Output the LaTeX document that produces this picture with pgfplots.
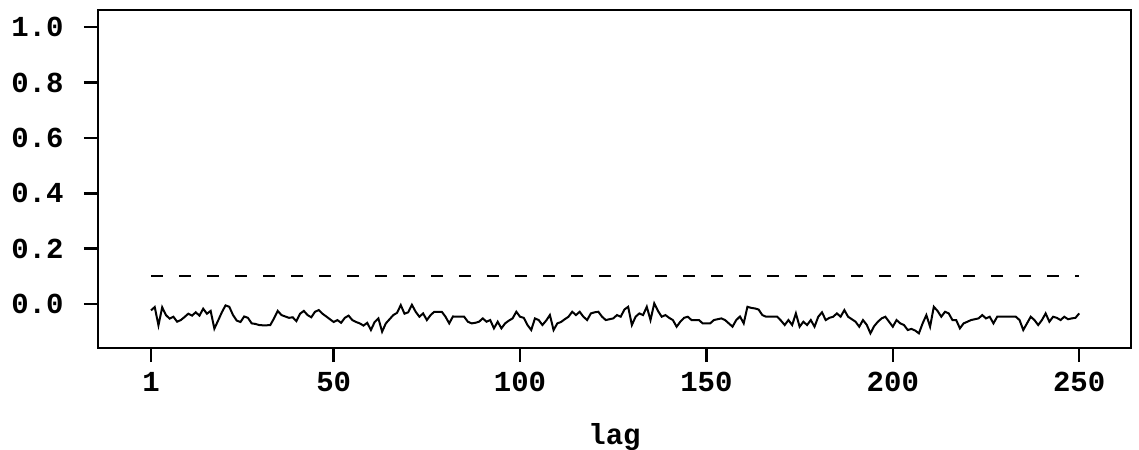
\documentclass[border=0pt]{standalone}
\usepackage{fontspec}
\setmainfont{Liberation Mono}
\usepackage{pgfplots}
\pgfplotsset{compat=1.18}
\begin{document}
\begin{tikzpicture}
\useasboundingbox (-98bp,-102bp) rectangle (1041bp,348bp);
\begin{axis}[
  at={(0,0)}, anchor=south west,
  scale only axis, width=1033bp, height=338bp,
  xmin=-13.22, xmax=263.9, ymin=-0.159, ymax=1.0625,
  xtick={1,50,100,150,200,250},
  ytick={0,0.2,0.4,0.6,0.8,1.0},
  xtick pos=left, ytick pos=left,
  tick align=outside, major tick length=14bp,
  axis line style={line width=2.8bp},
  every tick/.style={black, line width=2.4bp},
  yticklabel style={/pgf/number format/fixed, /pgf/number format/fixed zerofill, /pgf/number format/precision=1},
  /pgf/number format/assume math mode=true,
  ticklabel style={font=\fontsize{29bp}{30bp}\selectfont\bfseries},
  xticklabel style={yshift=-7bp},
  yticklabel style={xshift=-17bp},
  xlabel={lag},
  xlabel style={font=\fontsize{29bp}{30bp}\selectfont\bfseries, yshift=-24bp},
]
\addplot[black, line width=2.2bp, dash pattern=on 12bp off 16bp] coordinates {(1,0.102) (250,0.102)};
\addplot[black, line width=2bp] coordinates {
(1,-0.023)(2,-0.011)(3,-0.077)(4,-0.012)(5,-0.040)(6,-0.053)(7,-0.046)(8,-0.064)(9,-0.058)(10,-0.047)
(11,-0.035)(12,-0.042)(13,-0.030)(14,-0.042)(15,-0.017)(16,-0.035)(17,-0.025)(18,-0.089)(19,-0.060)(20,-0.030)
(21,-0.005)(22,-0.010)(23,-0.040)(24,-0.060)(25,-0.065)(26,-0.045)(27,-0.050)(28,-0.070)(29,-0.072)(30,-0.076)
(31,-0.077)(32,-0.077)(33,-0.076)(34,-0.052)(35,-0.025)(36,-0.040)(37,-0.045)(38,-0.050)(39,-0.048)(40,-0.062)
(41,-0.035)(42,-0.025)(43,-0.040)(44,-0.048)(45,-0.028)(46,-0.022)(47,-0.035)(48,-0.045)(49,-0.055)(50,-0.065)
(51,-0.058)(52,-0.068)(53,-0.050)(54,-0.042)(55,-0.058)(56,-0.065)(57,-0.070)(58,-0.078)(59,-0.068)(60,-0.094)
(61,-0.065)(62,-0.052)(63,-0.100)(64,-0.070)(65,-0.055)(66,-0.040)(67,-0.032)(68,-0.004)(69,-0.035)(70,-0.030)
(71,-0.003)(72,-0.028)(73,-0.046)(74,-0.034)(75,-0.058)(76,-0.040)(77,-0.028)(78,-0.028)(79,-0.028)(80,-0.046)
(81,-0.070)(82,-0.045)(83,-0.046)(84,-0.046)(85,-0.046)(86,-0.064)(87,-0.070)(88,-0.068)(89,-0.064)(90,-0.052)
(91,-0.064)(92,-0.058)(93,-0.088)(94,-0.064)(95,-0.088)(96,-0.070)(97,-0.060)(98,-0.052)(99,-0.028)(100,-0.046)
(101,-0.050)(102,-0.076)(103,-0.094)(104,-0.052)(105,-0.058)(106,-0.076)(107,-0.060)(108,-0.040)(109,-0.094)(110,-0.070)
(111,-0.065)(112,-0.055)(113,-0.046)(114,-0.028)(115,-0.040)(116,-0.028)(117,-0.046)(118,-0.058)(119,-0.034)(120,-0.030)
(121,-0.028)(122,-0.046)(123,-0.058)(124,-0.055)(125,-0.052)(126,-0.040)(127,-0.046)(128,-0.020)(129,-0.010)(130,-0.076)
(131,-0.046)(132,-0.034)(133,-0.040)(134,-0.010)(135,-0.058)(136,0.002)(137,-0.025)(138,-0.046)(139,-0.040)(140,-0.050)
(141,-0.058)(142,-0.082)(143,-0.064)(144,-0.050)(145,-0.046)(146,-0.058)(147,-0.058)(148,-0.058)(149,-0.070)(150,-0.070)
(151,-0.070)(152,-0.058)(153,-0.055)(154,-0.052)(155,-0.058)(156,-0.070)(157,-0.082)(158,-0.058)(159,-0.045)(160,-0.070)
(161,-0.010)(162,-0.014)(163,-0.016)(164,-0.020)(165,-0.040)(166,-0.046)(167,-0.046)(168,-0.046)(169,-0.046)(170,-0.060)
(171,-0.076)(172,-0.058)(173,-0.076)(174,-0.034)(175,-0.082)(176,-0.064)(177,-0.076)(178,-0.058)(179,-0.082)(180,-0.046)
(181,-0.030)(182,-0.058)(183,-0.050)(184,-0.046)(185,-0.034)(186,-0.046)(187,-0.022)(188,-0.046)(189,-0.055)(190,-0.064)
(191,-0.082)(192,-0.058)(193,-0.075)(194,-0.106)(195,-0.080)(196,-0.064)(197,-0.052)(198,-0.046)(199,-0.064)(200,-0.082)
(201,-0.058)(202,-0.070)(203,-0.076)(204,-0.094)(205,-0.090)(206,-0.096)(207,-0.106)(208,-0.070)(209,-0.040)(210,-0.082)
(211,-0.010)(212,-0.025)(213,-0.046)(214,-0.028)(215,-0.034)(216,-0.058)(217,-0.058)(218,-0.088)(219,-0.070)(220,-0.064)
(221,-0.058)(222,-0.055)(223,-0.052)(224,-0.040)(225,-0.052)(226,-0.046)(227,-0.070)(228,-0.046)(229,-0.046)(230,-0.046)
(231,-0.046)(232,-0.046)(233,-0.046)(234,-0.058)(235,-0.094)(236,-0.070)(237,-0.046)(238,-0.058)(239,-0.076)(240,-0.058)
(241,-0.034)(242,-0.064)(243,-0.046)(244,-0.050)(245,-0.058)(246,-0.046)(247,-0.055)(248,-0.052)(249,-0.050)(250,-0.034)
};
\end{axis}
\end{tikzpicture}
\end{document}
